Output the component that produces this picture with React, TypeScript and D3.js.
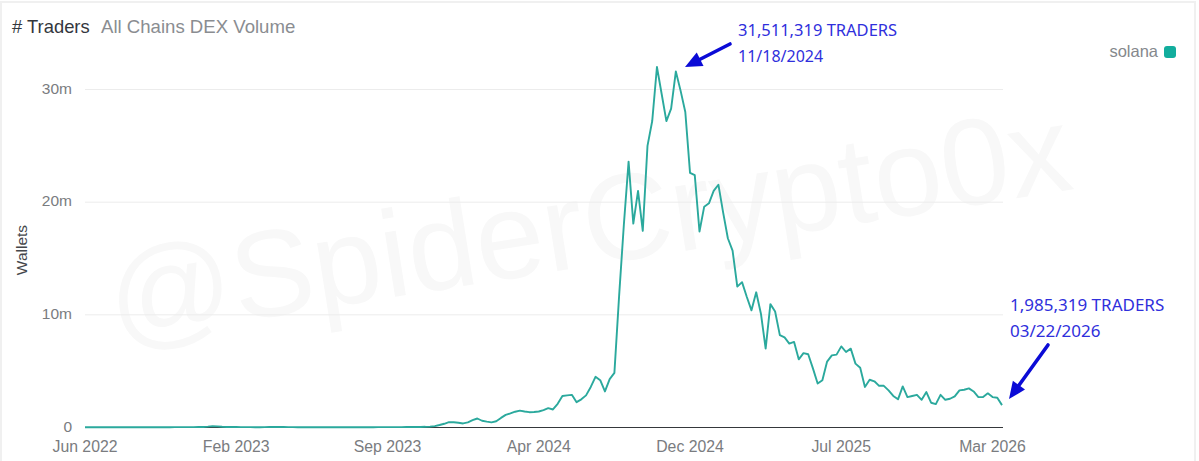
import React from "react";
import * as d3 from "d3";

const WIDTH = 1199;
const HEIGHT = 461;

// weekly unique traders in millions, first point Jun 2022, last point 03/22/2026
const earlyTraders = [
  0.02, 0.02, 0.02, 0.02, 0.02, 0.02, 0.02, 0.02, 0.02, 0.02, 0.02, 0.02,
  0.02, 0.02, 0.02, 0.02, 0.02, 0.02, 0.02, 0.03, 0.03, 0.03, 0.03, 0.03,
  0.04, 0.05, 0.08, 0.12, 0.10, 0.07, 0.05, 0.04, 0.04, 0.03, 0.03, 0.03,
  0.02, 0.02, 0.03, 0.04, 0.05, 0.05, 0.04, 0.03, 0.03, 0.02, 0.02, 0.02,
  0.02, 0.02, 0.02, 0.02, 0.02, 0.02, 0.02, 0.02, 0.02, 0.02, 0.02, 0.02,
  0.02, 0.02, 0.03, 0.03, 0.03, 0.03, 0.03, 0.03, 0.04, 0.04, 0.05, 0.05,
];
const riseTraders = [
  0.06, 0.08, 0.12, 0.22, 0.33, 0.47, 0.46, 0.42, 0.36, 0.45, 0.65, 0.8, 0.6,
  0.52, 0.46, 0.55, 0.85, 1.12, 1.25, 1.4, 1.5, 1.42, 1.36, 1.38, 1.42, 1.55,
  1.72, 1.6, 2.1, 2.8, 2.85, 2.9, 2.25, 2.5, 2.85, 3.6, 4.5, 4.2, 3.2, 4.3, 4.85,
];
const peakTraders = [
  11.7, 18, 23.6, 18.1, 21, 17.45, 25, 27.2, 32, 29.6, 27.2, 28.3, 31.6, 29.9,
  28, 22.6, 22.4, 17.4, 19.6, 19.9, 21, 21.55, 19.1, 16.8, 15.7,
];
const declineTraders = [
  12.5, 12.9, 11.6, 10.4, 12, 10.1, 7, 10.95, 10.3, 8.2, 8, 7.45, 7.6, 6.05,
  6.6, 6.5, 5.25, 3.9, 4.2, 5.85, 6.4, 6.47, 7.2, 6.7, 7, 5.67, 5.3, 3.6, 4.24,
  4.1, 3.7, 3.7, 3.3, 2.8, 2.5, 3.65, 2.7, 2.8, 2.9, 2.46, 3.15, 2.2, 2.08, 2.9,
  2.46, 2.55, 2.76, 3.3, 3.35, 3.47, 3.2, 2.7, 2.7, 3.03, 2.7, 2.64, 1.985,
];
const traders = [...earlyTraders, ...riseTraders, ...peakTraders, ...declineTraders];

const yTicks = [0, 10, 20, 30];
const xTickLabels = ["Jun 2022", "Feb 2023", "Sep 2023", "Apr 2024", "Dec 2024", "Jul 2025", "Mar 2026"];
const xTickWeeks = [0, 32, 64, 96, 128, 160, 192];

const SANS = "'Liberation Sans', Arial, sans-serif";
const NOTE = "'Noto Sans', sans-serif";
const TEAL = "#2ba99d";
const BLUE = "#2f2fdc";

function Arrow({ x1, y1, x2, y2 }: { x1: number; y1: number; x2: number; y2: number }) {
  const a = Math.atan2(y2 - y1, x2 - x1);
  const len = 17;
  const wing = 7.5;
  const bx = x2 - len * Math.cos(a);
  const by = y2 - len * Math.sin(a);
  const nx = -Math.sin(a);
  const ny = Math.cos(a);
  return (
    <g>
      <line x1={x1} y1={y1} x2={bx} y2={by} stroke="#0b0bd6" strokeWidth={3.6} strokeLinecap="round" />
      <path
        d={`M${x2},${y2}L${bx + nx * wing},${by + ny * wing}L${bx - nx * wing},${by - ny * wing}Z`}
        fill="#0b0bd6"
      />
    </g>
  );
}

export default function App() {
  const x = d3.scaleLinear().domain([0, traders.length - 1]).range([85, 1002]);
  const y = d3.scaleLinear().domain([0, 30]).range([427.5, 89.5]);
  const line = d3
    .line<number>()
    .x((_, i) => x(i))
    .y((d) => y(d));

  return (
    <svg
      width={WIDTH}
      height={HEIGHT}
      style={{ position: "absolute", left: 0, top: 0, background: "#fff" }}
    >
      <rect x={1} y={2} width={1194} height={470} fill="#fff" stroke="#f0f0f0" strokeWidth={2} />
      <text
        x={115}
        y={341}
        transform="rotate(-9 115 341)"
        fontFamily={SANS}
        fontSize={123}
        fill="#f8f8f8"
      >
        @SpiderCrypto0x
      </text>

      <text x={12} y={33} fontFamily={SANS} fontSize={18.4} fill="#33373d">
        # Traders
      </text>
      <text x={101} y={33} fontFamily={SANS} fontSize={18.6} fill="#8a8d91">
        All Chains DEX Volume
      </text>

      <text x={1158} y={57} textAnchor="end" fontFamily={SANS} fontSize={16.5} fill="#85888c">
        solana
      </text>
      <rect x={1164} y={46} width={12} height={12} rx={3} fill="#12ad9d" />

      {yTicks.map((t) => (
        <g key={t}>
          {t > 0 && <line x1={85} x2={1003} y1={y(t)} y2={y(t)} stroke="#ececec" strokeWidth={1} />}
          <text
            x={72}
            y={y(t) + 4}
            textAnchor="end"
            fontFamily={SANS}
            fontSize={15.5}
            fill="#7a7c80"
          >
            {t === 0 ? "0" : `${t}m`}
          </text>
        </g>
      ))}

      <text
        x={27}
        y={250}
        transform="rotate(-90 27 250)"
        textAnchor="middle"
        fontFamily={SANS}
        fontSize={15.5}
        fill="#44474b"
      >
        Wallets
      </text>

      <line x1={85} x2={1003} y1={y(0)} y2={y(0)} stroke="#35383b" strokeWidth={1.2} />

      {xTickWeeks.map((w, i) => (
        <text
          key={w}
          x={x(w)}
          y={452}
          textAnchor="middle"
          fontFamily={SANS}
          fontSize={15.8}
          fill="#7a7c80"
        >
          {xTickLabels[i]}
        </text>
      ))}

      <path d={line(traders) ?? ""} fill="none" stroke={TEAL} strokeWidth={1.9} strokeLinejoin="round" />

      <text x={738} y={36} fontFamily={NOTE} fontSize={16.5} fill={BLUE}>
        31,511,319 TRADERS
      </text>
      <text x={738} y={62} fontFamily={NOTE} fontSize={16} fill={BLUE}>
        11/18/2024
      </text>
      <Arrow x1={730} y1={44} x2={685} y2={67} />

      <text x={1010} y={311} fontFamily={NOTE} fontSize={17} fill={BLUE}>
        1,985,319 TRADERS
      </text>
      <text x={1010} y={337} fontFamily={NOTE} fontSize={17} fill={BLUE}>
        03/22/2026
      </text>
      <Arrow x1={1048} y1={345} x2={1009} y2={399} />
    </svg>
  );
}
